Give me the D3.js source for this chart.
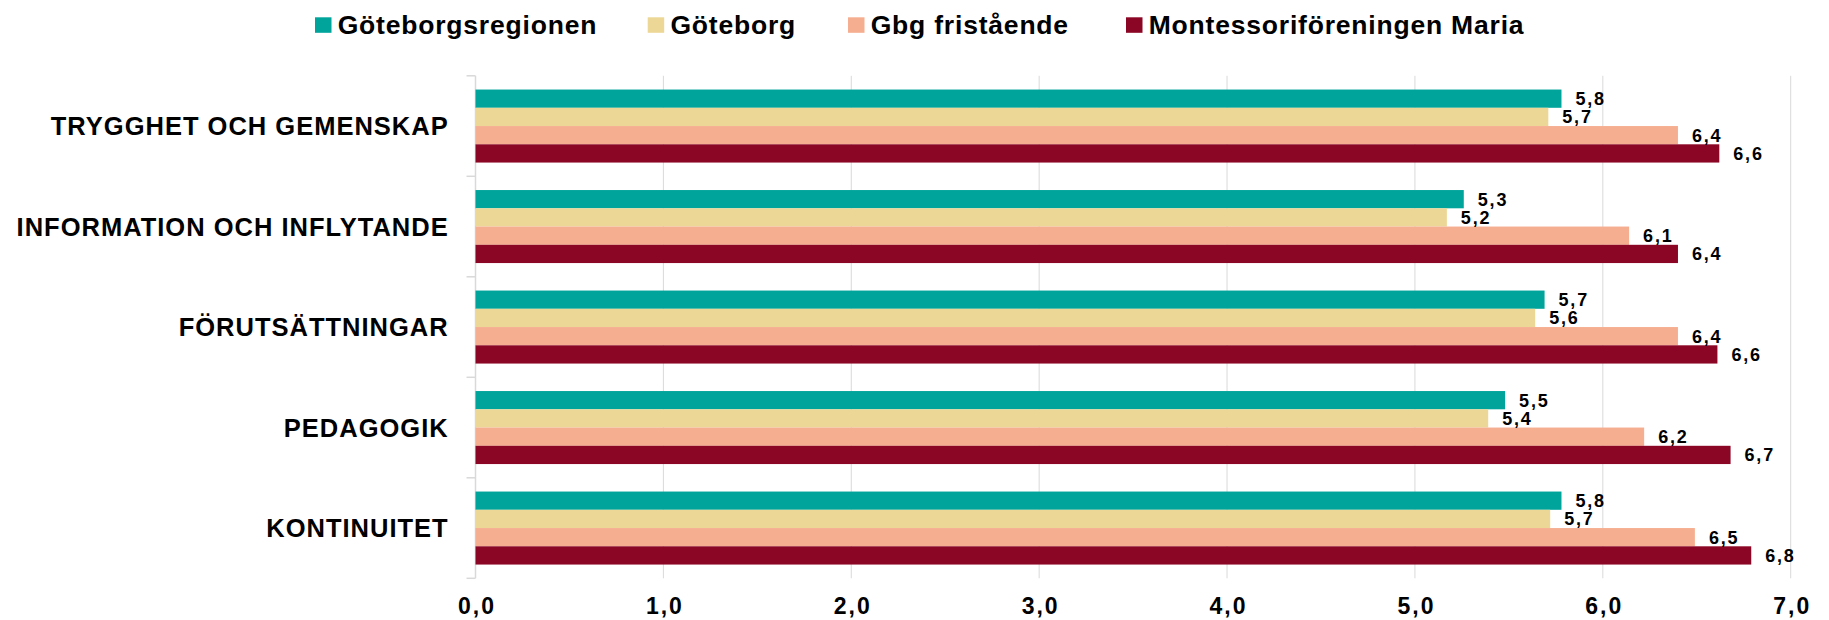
<!DOCTYPE html>
<html>
<head>
<meta charset="utf-8">
<script src="https://cdn.jsdelivr.net/npm/d3@7"></script>
<style>
  html, body { margin: 0; padding: 0; background: #fff; }
  svg { display: block; font-family: "Liberation Sans", Arial, sans-serif; }
</style>
</head>
<body>
<svg id="chart" width="1829" height="620"></svg>
<script>
// ---- Data ----
const categories = ["TRYGGHET OCH GEMENSKAP", "INFORMATION OCH INFLYTANDE", "FÖRUTSÄTTNINGAR", "PEDAGOGIK", "KONTINUITET"];
const seriesNames = ["Göteborgsregionen", "Göteborg", "Gbg fristående", "Montessoriföreningen Maria"];
const goteborgsregionen = [5.78, 5.26, 5.69, 5.48, 5.78];
const goteborg = [5.71, 5.17, 5.64, 5.39, 5.72];
const gbgFristaende = [6.40, 6.14, 6.40, 6.22, 6.49];
const montessori = [6.62, 6.40, 6.61, 6.68, 6.79];
const seriesColors = ["#00A49B", "#EDD796", "#F6AE90", "#8B0625"];
const xTickValues = [0, 1, 2, 3, 4, 5, 6, 7];

const seriesValues = [goteborgsregionen, goteborg, gbgFristaende, montessori];

// ---- Layout ----
const plotLeft = 475.5, plotRight = 1790.7, plotTop = 75.8, plotBottom = 578.3;

const svg = d3.select("#chart");
const locale = d3.formatLocale({decimal: ",", thousands: " ", grouping: [3], currency: ["", " kr"]});
const fmt = locale.format(".1f");

const x = d3.scaleLinear().domain([0, 7]).range([plotLeft, plotRight]);
const y = d3.scaleBand().domain(categories).range([plotTop, plotBottom]).paddingInner(0).paddingOuter(0);
const y1 = d3.scaleBand().domain(seriesNames).range([0, y.bandwidth()]).paddingInner(0).paddingOuter(0.753);

// gridlines
svg.append("g")
  .selectAll("line")
  .data(xTickValues.filter(d => d > 0))
  .join("line")
  .attr("x1", d => x(d)).attr("x2", d => x(d))
  .attr("y1", plotTop).attr("y2", plotBottom)
  .attr("stroke", "#d9d9d9").attr("stroke-width", 1);

// left axis line and boundary ticks
const boundaries = categories.map(c => y(c)).concat([y.range()[1]]);
svg.append("line")
  .attr("x1", plotLeft).attr("x2", plotLeft)
  .attr("y1", plotTop).attr("y2", plotBottom)
  .attr("stroke", "#d9d9d9").attr("stroke-width", 1.5);
svg.append("g")
  .selectAll("line")
  .data(boundaries)
  .join("line")
  .attr("x1", plotLeft - 9).attr("x2", plotLeft)
  .attr("y1", d => d).attr("y2", d => d)
  .attr("stroke", "#d9d9d9").attr("stroke-width", 1.5);

// category labels
const catLS = 1.0;
svg.append("g")
  .selectAll("text")
  .data(categories)
  .join("text")
  .attr("x", plotLeft - 27.8 + catLS)
  .attr("y", d => y(d) + y.bandwidth() / 2)
  .attr("dy", "0.36em")
  .attr("text-anchor", "end")
  .attr("font-size", 25.5)
  .attr("font-weight", "bold")
  .attr("letter-spacing", catLS)
  .attr("fill", "#000")
  .text(d => d);

// bars
const flat = [];
categories.forEach((c, ci) => {
  seriesNames.forEach((s, si) => {
    flat.push({cat: c, series: s, si: si, value: seriesValues[si][ci]});
  });
});

svg.append("g")
  .selectAll("rect")
  .data(flat)
  .join("rect")
  .attr("x", x(0))
  .attr("y", d => y(d.cat) + y1(d.series))
  .attr("width", d => x(d.value) - x(0))
  .attr("height", y1.bandwidth())
  .attr("fill", d => seriesColors[d.si]);

// data labels
svg.append("g")
  .selectAll("text")
  .data(flat)
  .join("text")
  .attr("x", d => x(d.value) + 14)
  .attr("y", d => y(d.cat) + y1(d.series) + y1.bandwidth() / 2)
  .attr("dy", "0.36em")
  .attr("font-size", 18)
  .attr("font-weight", "bold")
  .attr("letter-spacing", 1.8)
  .attr("fill", "#000")
  .text(d => fmt(d.value));

// bottom axis labels
const axLS = 2;
const xAxis = d3.axisBottom(x).tickValues(xTickValues).tickFormat(fmt).tickSize(0);
const gx = svg.append("g").attr("transform", `translate(0,${plotBottom})`).call(xAxis);
gx.select(".domain").remove();
gx.selectAll("text")
  .attr("y", 35.5).attr("dy", 0)
  .attr("dx", axLS / 2)
  .attr("font-size", 23)
  .attr("font-weight", "bold")
  .attr("letter-spacing", axLS)
  .attr("font-family", "'Liberation Sans', Arial, sans-serif")
  .attr("fill", "#000");

// legend
const legendX = [315, 647.7, 848, 1126];
const lg = svg.append("g")
  .selectAll("g")
  .data(seriesNames)
  .join("g")
  .attr("transform", (d, i) => `translate(${legendX[i]},0)`);
lg.append("rect")
  .attr("x", 0).attr("y", 17.3)
  .attr("width", 16.5).attr("height", 15.5)
  .attr("fill", (d, i) => seriesColors[i]);
lg.append("text")
  .attr("x", 22.7).attr("y", 34.3)
  .attr("font-size", 26.5)
  .attr("font-weight", "bold")
  .attr("letter-spacing", 0.8)
  .attr("fill", "#000")
  .text(d => d);
</script>
</body>
</html>
